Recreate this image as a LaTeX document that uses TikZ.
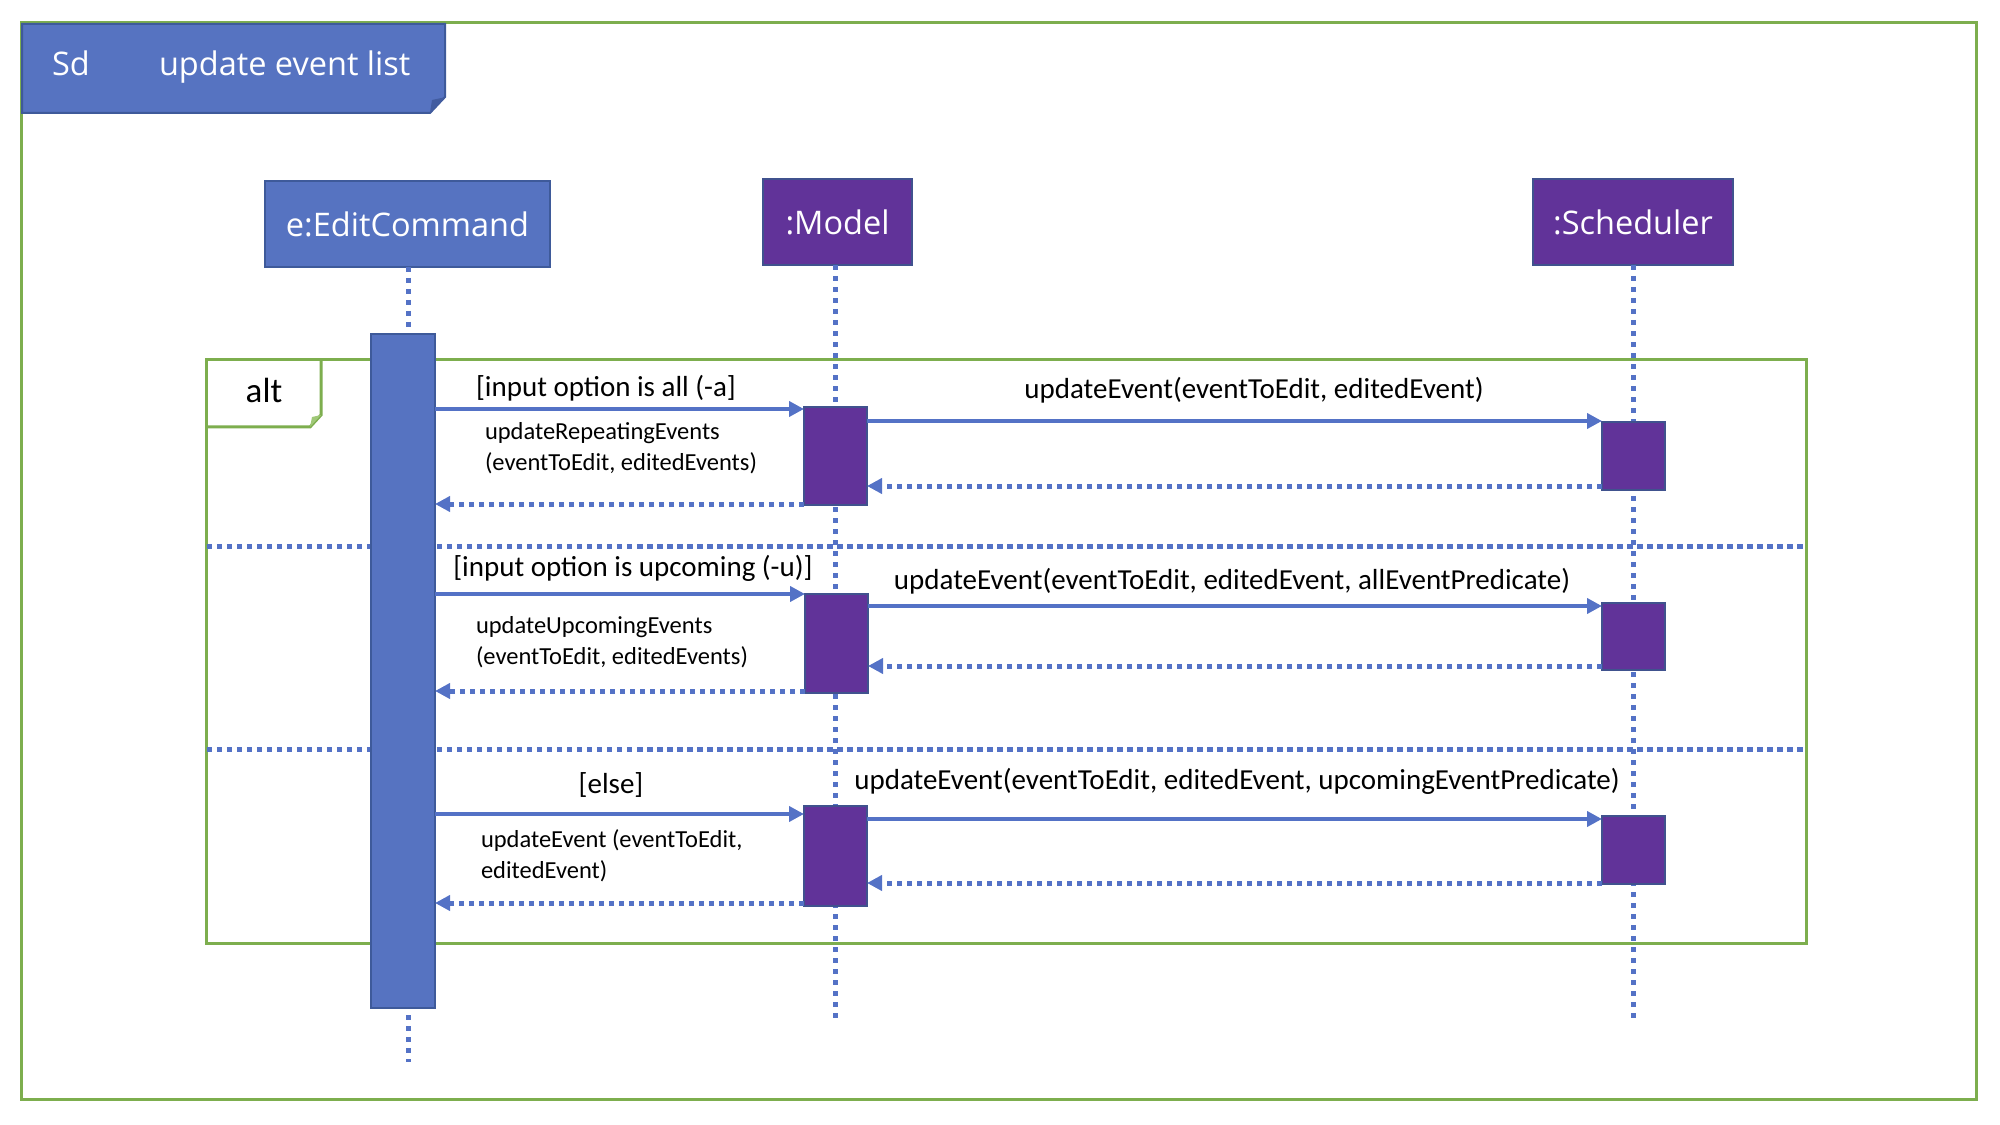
\documentclass[tikz,border=0pt]{standalone}
\usepackage{fontspec}
\setmainfont{Carlito}
\newfontfamily\hdrfont{Open Sans}
\usetikzlibrary{arrows.meta}

\definecolor{hdrblue}{RGB}{86,115,193}
\definecolor{hdrblueline}{RGB}{62,90,154}
\definecolor{folddark}{RGB}{66,92,160}
\definecolor{modpurple}{RGB}{97,51,153}
\definecolor{modline}{RGB}{64,82,142}
\definecolor{msgblue}{RGB}{84,114,198}
\definecolor{framegreen}{RGB}{125,174,78}
\definecolor{foldgreen}{RGB}{160,200,120}

\begin{document}
\begin{tikzpicture}[x=0.4pt,y=-0.4pt,
  every node/.style={outer sep=0pt},
  frame/.style={draw=framegreen, line width=1.2pt, inner sep=0pt},
  header/.style={draw=hdrblueline, line width=0.9pt, text=white, inner sep=0pt,
    font=\hdrfont\fontsize{13}{15}\selectfont, minimum height=34.4pt},
  bluehdr/.style={header, fill=hdrblue},
  purplehdr/.style={header, fill=modpurple, draw=modline},
  actbar/.style={draw=hdrblueline, line width=0.8pt, fill=hdrblue, minimum width=25.6pt, inner sep=0pt},
  actbox/.style={draw=modline, line width=0.8pt, fill=modpurple, minimum width=25.2pt, inner sep=0pt},
  lifeline/.style={draw=msgblue, line width=2pt, dash pattern=on 2pt off 2.4pt},
  separator/.style={draw=msgblue, line width=2pt, dash pattern=on 2.2pt off 1.8pt},
  call/.style={draw=msgblue, line width=1.6pt, -{Triangle[length=6pt,width=6pt]}},
  reply/.style={draw=msgblue, line width=2pt, dash pattern=on 2.2pt off 1.8pt,
    -{Triangle[length=6pt,width=6pt]}},
  guard/.style={font=\fontsize{11.6}{14}\selectfont, inner sep=0pt},
  msg/.style={font=\fontsize{11.6}{14}\selectfont, inner sep=0pt},
  detail/.style={font=\fontsize{9.8}{12.4}\selectfont, inner sep=0pt, align=left, anchor=west},
]
\useasboundingbox (0,0) rectangle (2000,1125);

% outer sequence-diagram frame
\node[frame, minimum width=781.6pt, minimum height=430.4pt] (outer) at (999,561) {};

% title tab with folded corner
\fill[hdrblue, draw=hdrblueline, line width=0.8pt]
  (22,24) -- (445,24) -- (445,97) -- (430,113) -- (22,113) -- cycle;
\fill[folddark] (430,113) -- (446,97) -- (432,100) -- cycle;
\node[anchor=base west, text=white, inner sep=0pt, font=\hdrfont\fontsize{13}{15}\selectfont]
  (sd) at (52,76) {Sd};
\node[anchor=base west, text=white, inner sep=0pt, font=\hdrfont\fontsize{13}{15}\selectfont]
  (title) at (159,76) {update event list};

% participants
\node[bluehdr, minimum width=114pt] (edit) at (407.5,224) {e:EditCommand};
\node[purplehdr, minimum width=59.6pt] (model) at (837.5,222) {:Model};
\node[purplehdr, minimum width=80pt] (sched) at (1633,222) {:Scheduler};

% lifelines
\coordinate (editEnd) at (408,1062);
\coordinate (modelEnd) at (835,1022);
\coordinate (schedEnd) at (1633,1022);
\draw[lifeline] (edit.south -| editEnd) -- (editEnd);
\draw[lifeline] (model.south -| modelEnd) -- (modelEnd);
\draw[lifeline] (sched.south -| schedEnd) -- (schedEnd);

% alt combined fragment
\node[frame, minimum width=639.6pt, minimum height=233.2pt] (alt) at (1006.5,651.5) {};
\draw[framegreen, line width=1.2pt] (207,427) -- (310,427) -- (321,415) -- (321,360);
\fill[foldgreen] (310,427) -- (321,415) -- (312,417) -- cycle;
\node[inner sep=0pt, font=\fontsize{14}{16}\selectfont] (altlabel) at (264,390) {alt};

\coordinate (sepA) at (0,546);
\coordinate (sepB) at (0,749);
\draw[separator] (alt.west |- sepA) -- (alt.east |- sepA);
\draw[separator] (alt.west |- sepB) -- (alt.east |- sepB);

% activations
\node[actbar, minimum height=269.6pt] (bar) at (403,671) {};
\node[actbox, minimum height=39.2pt] (a1) at (835.5,456) {};
\node[actbox, minimum height=39.6pt] (a2) at (836.5,643.5) {};
\node[actbox, minimum height=40pt] (a3) at (835.5,856) {};
\node[actbox, minimum height=27.2pt] (s1) at (1633.5,456) {};
\node[actbox, minimum height=26.8pt] (s2) at (1633.5,636.5) {};
\node[actbox, minimum height=27.2pt] (s3) at (1633.5,850) {};

% message heights
\coordinate (m1) at (0,409);
\coordinate (m2) at (0,421);
\coordinate (m3) at (0,486);
\coordinate (m4) at (0,504);
\coordinate (n1) at (0,594);
\coordinate (n2) at (0,606);
\coordinate (n3) at (0,666);
\coordinate (n4) at (0,691);
\coordinate (k1) at (0,814);
\coordinate (k2) at (0,819);
\coordinate (k3) at (0,883);
\coordinate (k4) at (0,903);

% operand 1: all
\draw[call] (bar.east |- m1) -- (a1.west |- m1);
\draw[call] (a1.east |- m2) -- (s1.west |- m2);
\draw[reply] (s1.west |- m3) -- (a1.east |- m3);
\draw[reply] (a1.west |- m4) -- (bar.east |- m4);

% operand 2: upcoming
\draw[call] (bar.east |- n1) -- (a2.west |- n1);
\draw[call] (a2.east |- n2) -- (s2.west |- n2);
\draw[reply] (s2.west |- n3) -- (a2.east |- n3);
\draw[reply] (a2.west |- n4) -- (bar.east |- n4);

% operand 3: else
\draw[call] (bar.east |- k1) -- (a3.west |- k1);
\draw[call] (a3.east |- k2) -- (s3.west |- k2);
\draw[reply] (s3.west |- k3) -- (a3.east |- k3);
\draw[reply] (a3.west |- k4) -- (bar.east |- k4);

% guards and message labels
\node[guard] (g1) at (606,388) {[input option is all (-a]};
\node[msg] (l1) at (1254,390) {updateEvent(eventToEdit, editedEvent)};
\node[detail] (d1) at (485,448) {updateRepeatingEvents\\(eventToEdit, editedEvents)};

\node[guard] (g2) at (633,568) {[input option is upcoming (-u)]};
\node[msg] (l2) at (1232,581) {updateEvent(eventToEdit, editedEvent, allEventPredicate)};
\node[detail] (d2) at (476,642) {updateUpcomingEvents\\(eventToEdit, editedEvents)};

\node[guard] (g3) at (611,785) {[else]};
\node[msg] (l3) at (1237,781) {updateEvent(eventToEdit, editedEvent, upcomingEventPredicate)};
\node[detail] (d3) at (481,856) {updateEvent (eventToEdit,\\editedEvent)};

\end{tikzpicture}
\end{document}
